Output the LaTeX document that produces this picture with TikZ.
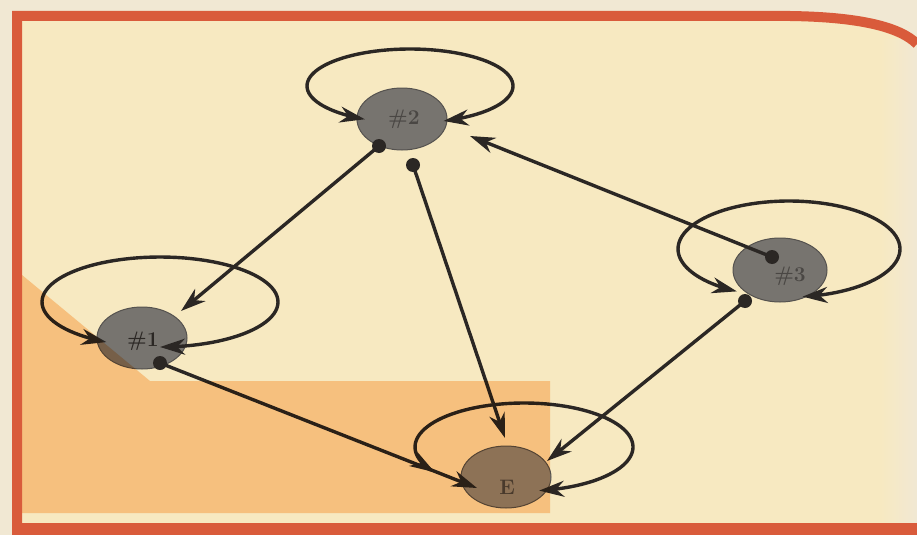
\documentclass[tikz,border=0pt]{standalone}
\usetikzlibrary{arrows.meta,shapes.geometric}
\definecolor{outer}{HTML}{F1E8D3}
\definecolor{cream}{HTML}{F7E9C1}
\definecolor{redb}{HTML}{D95B3B}
\definecolor{ink}{HTML}{2B2724}
\definecolor{nodegray}{HTML}{77746F}
\definecolor{nodeedge}{HTML}{55524F}
\definecolor{egray}{HTML}{8E8A84}
\definecolor{orangemul}{HTML}{FED3A7}
\definecolor{labgray}{HTML}{4A4744}
\begin{document}
\begin{tikzpicture}[x=1pt,y=-1pt,
  every node/.style={inner sep=0pt,outer sep=0pt},
  state/.style={ellipse,draw=nodeedge,line width=1pt,fill=nodegray,minimum width=90pt,minimum height=62pt},
  dot/.style={circle,fill=ink,minimum size=14pt},
  edge/.style={draw=ink,line width=3.4pt,-{Stealth[length=25pt,width=16pt,inset=8pt]}},
  loopline/.style={draw=ink,line width=3.4pt,{Stealth[length=25pt,width=16pt,inset=8pt]}-{Stealth[length=25pt,width=16pt,inset=8pt]}},
  lab/.style={text=labgray,font=\fontsize{21}{21}\selectfont\bfseries}]
\useasboundingbox (0,0) rectangle (917,535);
% page
\fill[outer] (0,0) rectangle (917,535);
\fill[cream] (17,16) -- (790,16) .. controls (860,17) and (900,27) .. (917,44) -- (917,529) -- (17,529) -- cycle;
\shade[left color=cream,right color=outer] (880,40) rectangle (917,523);
% nodes
\node[state] (n2) at (402,119) {};
\node[state] (n1) at (142,338) {};
\node[state,minimum width=94pt,minimum height=64pt] (n3) at (780,270) {};
\node[state,fill=egray] (nE) at (506,477) {};
% self loops
\draw[loopline] plot[domain=-244:71,samples=90] ({410+103*cos(\x)},{86+37*sin(\x)});
\draw[loopline] plot[domain=-243:90,samples=90] ({160+118*cos(\x)},{302+45*sin(\x)});
\draw[loopline] plot[domain=-242:83,samples=90] ({789+111*cos(\x)},{249+48*sin(\x)});
\draw[loopline] plot[domain=-215:82,samples=90] ({524+109*cos(\x)},{447+44*sin(\x)});
% dots
\node[dot] (d2a) at (379,146) {};
\node[dot] (d2b) at (413,165) {};
\node[dot] (d3a) at (772,257) {};
\node[dot] (d3b) at (745,301) {};
\node[dot] (d1) at (160,363) {};
% arrow ends
\coordinate (t1) at (181,311);
\coordinate (tE1) at (505,438);
\coordinate (t2) at (470,136);
\coordinate (tE2) at (547,461);
\coordinate (tE3) at (477,488);
\draw[edge] (d2a.center) -- (t1);
\draw[edge] (d2b.center) -- (tE1);
\draw[edge] (d3a.center) -- (t2);
\draw[edge] (d3b.center) -- (tE2);
\draw[edge] (d1.center) -- (tE3);
% labels
\node[lab] (l2) at (404,119) {\#2};
\node[lab,text=ink] (l1) at (143,341) {\#1};
\node[lab] (l3) at (790,276) {\#3};
\node[lab] (lE) at (507,487) {E};
% orange overlay
\begin{scope}[blend mode=multiply]
\fill[orangemul] (22,275) -- (150,381) -- (550,381) -- (550,513) -- (22,513) -- cycle;
\end{scope}
% frame
\draw[redb,line width=10pt] (17,529) -- (17,16) -- (790,16) .. controls (860,17) and (900,27) .. (917,44);
\draw[redb,line width=12pt] (12,529) -- (917,529);
\end{tikzpicture}
\end{document}
